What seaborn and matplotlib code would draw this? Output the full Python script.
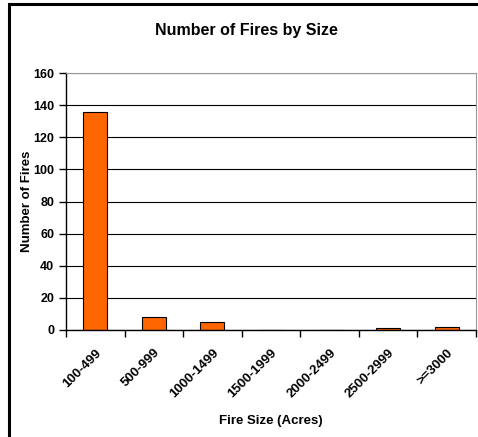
import matplotlib.pyplot as plt
import matplotlib.patches as mpatches
import seaborn as sns
import numpy as np
import pandas as pd

# data
size_classes = ["100-499", "500-999", "1000-1499", "1500-1999", "2000-2499", "2500-2999", ">=3000"]
fire_counts = [136, 8, 5, 0, 0, 1, 2]

df = pd.DataFrame({"size": size_classes, "count": fire_counts})

sns.set_style("white")
plt.rcParams['font.family'] = ['Liberation Sans', 'DejaVu Sans']
plt.rcParams['text.color'] = 'black'
plt.rcParams['axes.labelcolor'] = 'black'
plt.rcParams['xtick.color'] = 'black'
plt.rcParams['ytick.color'] = 'black'

fig = plt.figure(figsize=(4.78, 4.37), dpi=100)
ax = fig.add_axes([66 / 478, (437 - 330) / 437, (476 - 66) / 478, (330 - 73) / 437])

sns.barplot(data=df, x="size", y="count", color="#FF6600", width=0.41,
            edgecolor="black", linewidth=0.8, saturation=1, ax=ax)

ax.set_ylim(0, 160)
ax.set_xlim(-0.5, 6.5)
ax.set_yticks(np.arange(0, 161, 20))
ax.yaxis.grid(True, color="black", linewidth=0.8)
ax.set_axisbelow(True)

# ticks between categories on x
ax.set_xticks(np.arange(-0.5, 7.0, 1.0), minor=False)
ax.set_xticklabels([])
ax.set_xticks(np.arange(len(size_classes)), minor=True)
ax.set_xticklabels(size_classes, minor=True, rotation=45, ha="right",
                   rotation_mode="anchor", fontsize=9.5, fontweight="bold")
ax.tick_params(axis="x", which="major", length=5, width=1, direction="out", bottom=True)
ax.tick_params(axis="x", which="minor", length=0, pad=12)
ax.tick_params(axis="y", length=5, width=1, direction="out", left=True, labelsize=9)
for t in ax.get_yticklabels():
    t.set_fontweight("bold")

for side in ["top", "right"]:
    ax.spines[side].set_color("#999999")
    ax.spines[side].set_linewidth(0.8)
for side in ["left", "bottom"]:
    ax.spines[side].set_color("black")
    ax.spines[side].set_linewidth(1)

ax.set_xlabel("Fire Size (Acres)", fontsize=9.5, fontweight="bold")
ax.set_ylabel("Number of Fires", fontsize=9.5, fontweight="bold")
ax.xaxis.set_label_coords(0.5, -(421 - 330) / (330 - 73))
ax.yaxis.set_label_coords(-(66 - 27) / (476 - 66), 0.5)
ax.xaxis.label.set_va("center")
ax.yaxis.label.set_va("center")

fig.text(246 / 478, 1 - 30 / 437, "Number of Fires by Size", ha="center", va="center",
         fontsize=11.5, fontweight="bold")

# outer chart border
border = mpatches.Rectangle((9 / 478, -0.05), 1.0, 1 - 4 / 437 + 0.05,
                            transform=fig.transFigure, fill=False,
                            edgecolor="black", linewidth=2.2, clip_on=False)
fig.patches.append(border)

fig.savefig("out.png", dpi=100)
